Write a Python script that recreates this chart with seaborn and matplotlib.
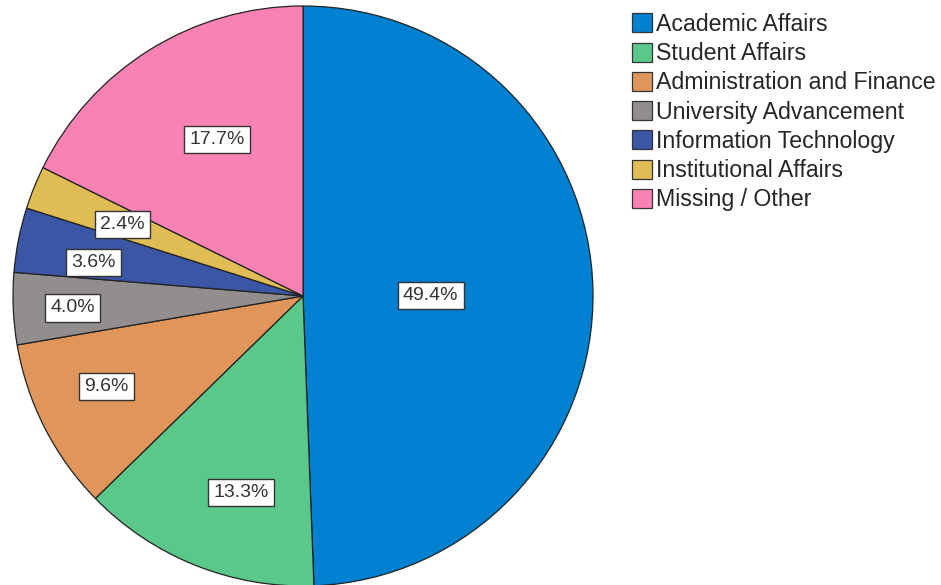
import matplotlib
matplotlib.use("Agg")
import matplotlib.pyplot as plt
import seaborn as sns
import numpy as np

# data
categories = ['Academic Affairs', 'Student Affairs', 'Administration and Finance',
              'University Advancement', 'Information Technology',
              'Institutional Affairs', 'Missing / Other']
percents = [49.4, 13.3, 9.6, 4.0, 3.6, 2.4, 17.7]
colors = ['#0080D0', '#5AC88A', '#E0965A', '#928E8E', '#3A56A4', '#E0BC55', '#F882B4']
# where each percentage label sits: fraction of radius, fraction across the wedge
label_dist = [0.44, 0.71, 0.745, 0.795, 0.733, 0.67, 0.615]
label_frac = [0.505, 0.41, 0.565, 0.47, 0.34, 0.45, 0.55]

sns.set_theme(style='white')
plt.rcParams['font.family'] = ['Liberation Sans', 'DejaVu Sans']

fig = plt.figure(figsize=(9.41, 5.85), dpi=100)
ax = fig.add_axes([13 / 941, -1 / 585, 580 / 941, 580 / 585])

palette = sns.color_palette(colors)
wedges, _ = ax.pie(percents, colors=palette, startangle=90, counterclock=False,
                   radius=1.0,
                   wedgeprops=dict(edgecolor='#222222', linewidth=0.9))
ax.set_xlim(-1, 1)
ax.set_ylim(-1, 1)
ax.set_aspect('equal')
ax.axis('off')

for w, p, d, f in zip(wedges, percents, label_dist, label_frac):
    # pie goes clockwise, so theta2 is the start edge
    ang = np.deg2rad(w.theta2 + f * (w.theta1 - w.theta2))
    ax.text(d * np.cos(ang), d * np.sin(ang), f'{p:.1f}%', ha='center', va='center',
            fontsize=14, color='#333333',
            bbox=dict(boxstyle='square,pad=0.27', facecolor='white',
                      edgecolor='#333333', linewidth=1.0))

leg = fig.legend(wedges, categories, loc='upper left', bbox_to_anchor=(0.6617, 0.994),
                 frameon=False, fontsize=16.7, handlelength=0.88, handleheight=0.88,
                 handletextpad=0.15, labelspacing=0.27, borderaxespad=0)
for h in leg.legend_handles:
    h.set_edgecolor('#333333')

fig.savefig('out.png', dpi=100)
